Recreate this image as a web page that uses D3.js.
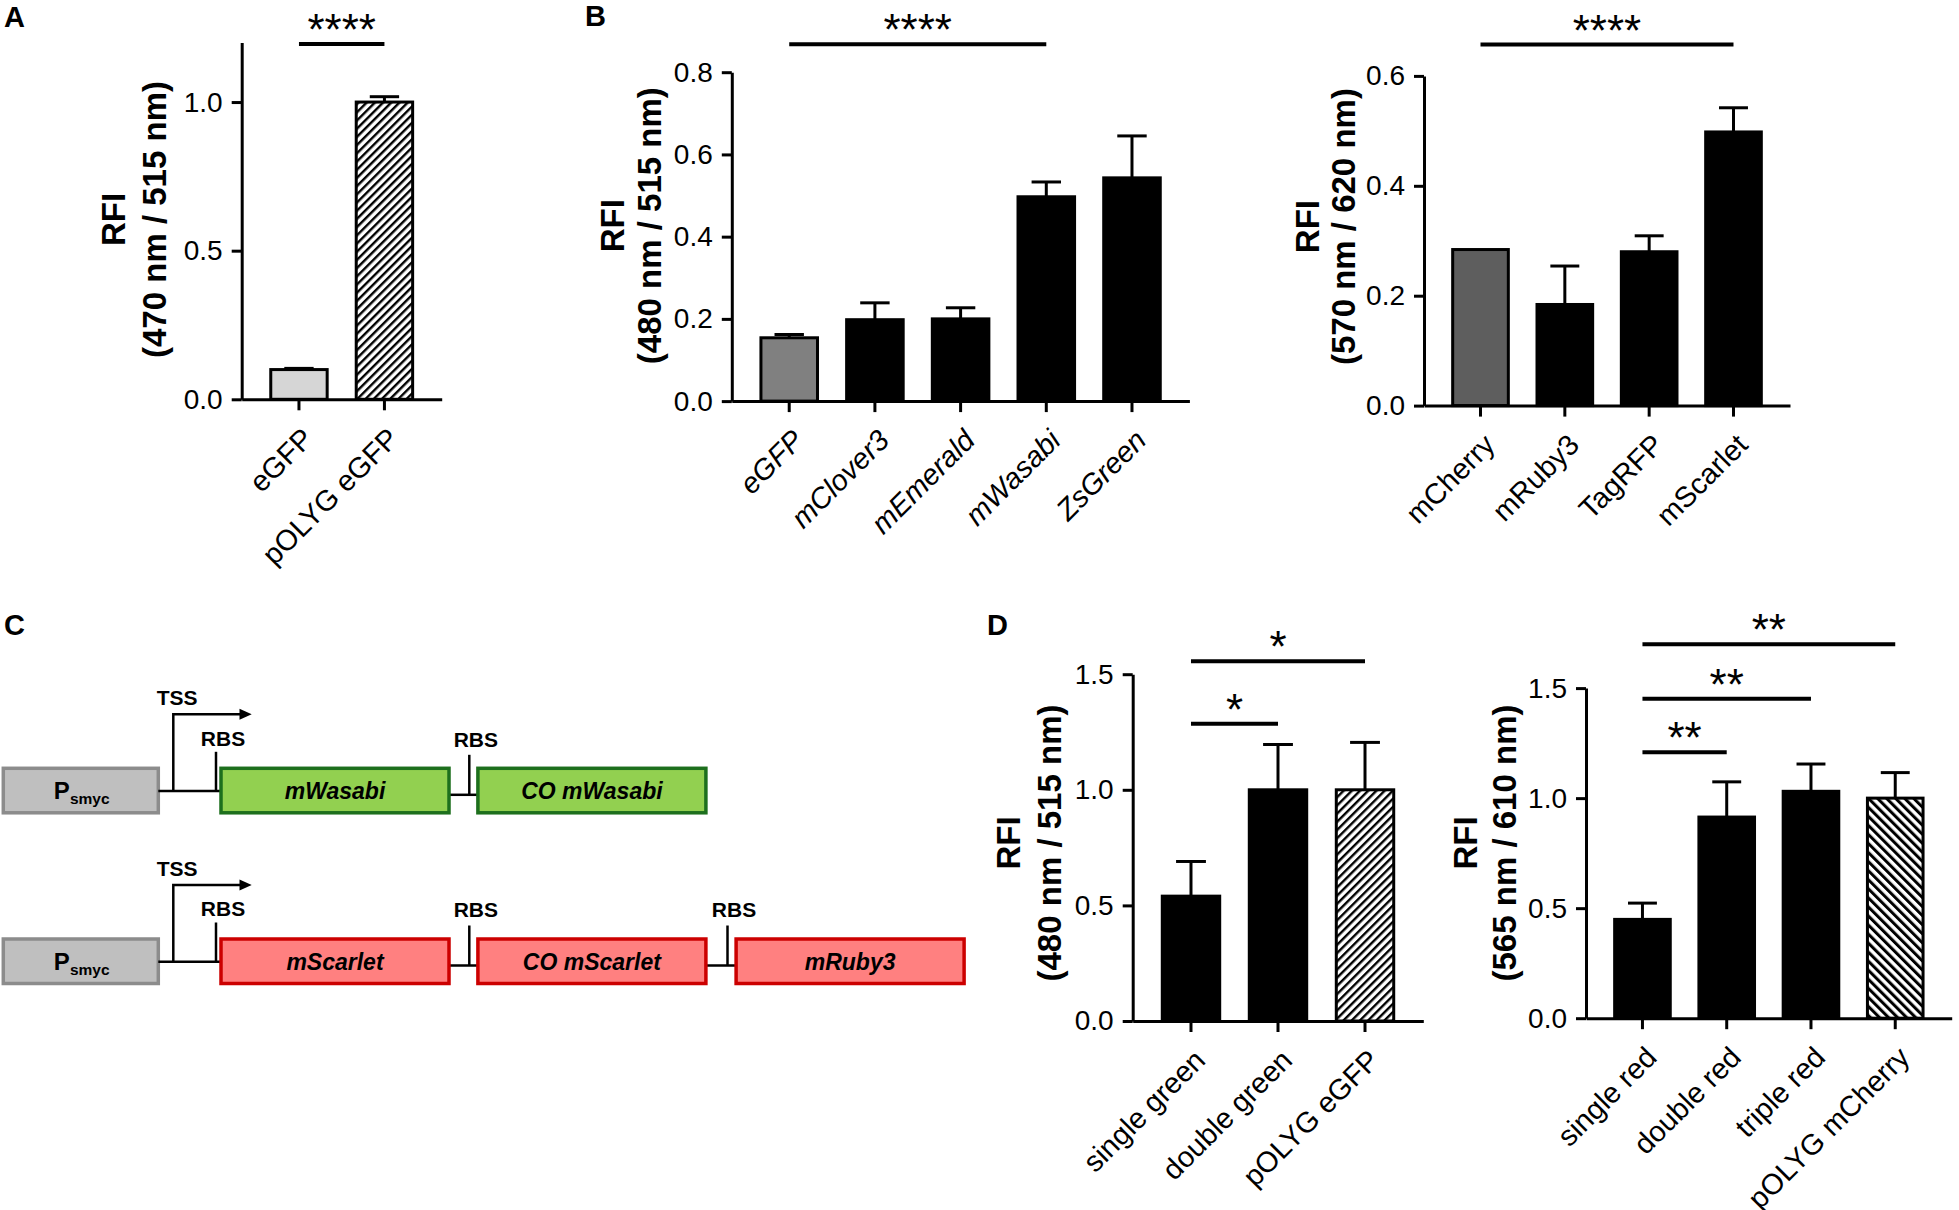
<!DOCTYPE html>
<html><head><meta charset="utf-8">
<script src="https://cdn.jsdelivr.net/npm/d3@7"></script>
<style>body{margin:0;background:#fff} svg{display:block}</style>
</head><body>
<svg id="fig" width="1959" height="1210"></svg>
<script>
// ---------------- data ----------------
const catsA = ["eGFP", "pOLYG eGFP"];
const valsA = [0.10, 1.00];
const sdA = [0.004, 0.018];
const ticksA = [0, 0.5, 1.0];

const catsBg = ["eGFP", "mClover3", "mEmerald", "mWasabi", "ZsGreen"];
const valsBg = [0.154, 0.198, 0.200, 0.497, 0.543];
const sdBg = [0.008, 0.041, 0.027, 0.036, 0.102];
const ticksBg = [0, 0.2, 0.4, 0.6, 0.8];

const catsBr = ["mCherry", "mRuby3", "TagRFP", "mScarlet"];
const valsBr = [0.284, 0.184, 0.280, 0.498];
const sdBr = [0, 0.070, 0.029, 0.044];
const ticksBr = [0, 0.2, 0.4, 0.6];

const catsDg = ["single green", "double green", "pOLYG eGFP"];
const valsDg = [0.54, 1.00, 1.00];
const sdDg = [0.15, 0.196, 0.205];
const ticksD = [0, 0.5, 1.0, 1.5];

const catsDr = ["single red", "double red", "triple red", "pOLYG mCherry"];
const valsDr = [0.449, 0.914, 1.031, 1.00];
const sdDr = [0.074, 0.160, 0.124, 0.116];

// significance brackets: [from index, to index, label, level in data units]
const sigA = [[0, 1, "****", 1.195]];
const sigBg = [[0, 3, "****", 0.868]];
const sigBr = [[0, 3, "****", 0.657]];
const sigDg = [[0, 1, "*", 1.286], [0, 2, "*", 1.556]];
const sigDr = [[0, 1, "**", 1.209], [0, 2, "**", 1.452], [0, 3, "**", 1.699]];

// construct diagram (panel C)
const construct1 = ["mWasabi", "CO mWasabi"];
const construct2 = ["mScarlet", "CO mScarlet", "mRuby3"];

// ---------------- drawing ----------------
const FONT = "'Liberation Sans', Arial, Helvetica, sans-serif";
const svg = d3.select("#fig").attr("font-family", FONT);
const defs = svg.append("defs");
function hatch(id, angle, size, lw) {
  const p = defs.append("pattern").attr("id", id).attr("patternUnits", "userSpaceOnUse")
    .attr("width", size).attr("height", size).attr("patternTransform", `rotate(${angle})`);
  p.append("rect").attr("width", size).attr("height", size).attr("fill", "#fff");
  p.append("rect").attr("x", 0).attr("width", lw).attr("height", size).attr("fill", "#000");
}
hatch("hatchF", 45, 5.8, 2.4);
hatch("hatchB", -45, 6.4, 3.0);

function panel(cfg) {
  const g = svg.append("g");
  const x = d3.scaleBand().domain(cfg.cats).range([cfg.ax, cfg.xEnd]).paddingInner(0.34).paddingOuter(0.34);
  const y = d3.scaleLinear().domain([0, cfg.max]).range([cfg.y0, cfg.yTop]);
  const bw = x.bandwidth();
  const rows = cfg.cats.map((c, i) => ({ c, v: cfg.vals[i], sd: cfg.sds[i], fill: cfg.fills[i] }));

  // error bars (upper only)
  const eb = g.append("g").attr("stroke", "#000").attr("stroke-width", 3);
  rows.filter(d => d.sd > 0).forEach(d => {
    const cx = x(d.c) + bw / 2;
    eb.append("line").attr("x1", cx).attr("x2", cx).attr("y1", y(d.v)).attr("y2", y(d.v + d.sd));
    eb.append("line").attr("x1", cx - bw * 0.26).attr("x2", cx + bw * 0.26)
      .attr("y1", y(d.v + d.sd)).attr("y2", y(d.v + d.sd));
  });

  // bars
  g.selectAll("rect.bar").data(rows).join("rect").attr("class", "bar")
    .attr("x", d => x(d.c)).attr("y", d => y(d.v))
    .attr("width", bw).attr("height", d => y(0) - y(d.v))
    .attr("fill", d => d.fill).attr("stroke", "#000").attr("stroke-width", 3);

  // y axis
  const ya = g.append("g").attr("transform", `translate(${cfg.ax},0)`)
    .call(d3.axisLeft(y).tickValues(cfg.ticks).tickSize(10).tickSizeOuter(0).tickPadding(9)
      .tickFormat(d3.format(".1f")));
  ya.select(".domain").attr("stroke-width", 3);
  ya.selectAll(".tick line").attr("stroke-width", 3);
  ya.selectAll(".tick text").attr("font-size", 28).attr("font-family", FONT).attr("fill", "#000");

  // x axis
  const xa = g.append("g").attr("transform", `translate(0,${cfg.y0})`)
    .call(d3.axisBottom(x).tickSize(11).tickSizeOuter(0).tickFormat(""));
  xa.select(".domain").attr("stroke-width", 3);
  xa.selectAll(".tick line").attr("stroke-width", 3);

  // category labels
  g.selectAll("text.cat").data(cfg.cats).join("text").attr("class", "cat")
    .attr("transform", d => `translate(${x(d) + bw / 2 + 16},${cfg.y0 + 41}) rotate(-45)`)
    .attr("text-anchor", "end").attr("font-size", 29)
    .attr("font-style", cfg.italic ? "italic" : "normal").text(d => d);

  // y title
  g.append("text").attr("transform", `translate(${cfg.tx1},${cfg.ty}) rotate(-90)`)
    .attr("text-anchor", "middle").attr("font-weight", "bold").attr("font-size", 33).text("RFI");
  g.append("text").attr("transform", `translate(${cfg.tx2},${cfg.ty}) rotate(-90)`)
    .attr("text-anchor", "middle").attr("font-weight", "bold").attr("font-size", 33).text(cfg.title);

  // significance
  cfg.sig.forEach(([i, j, lab, lv]) => {
    const xa1 = x(cfg.cats[i]) + bw / 2, xb1 = x(cfg.cats[j]) + bw / 2, yy = y(lv);
    g.append("line").attr("x1", xa1).attr("x2", xb1).attr("y1", yy).attr("y2", yy)
      .attr("stroke", "#000").attr("stroke-width", 4);
    g.append("text").attr("x", (xa1 + xb1) / 2).attr("y", yy + 1).attr("text-anchor", "middle")
      .attr("font-size", 44).text(lab);
  });
}

panel({ cats: catsA, vals: valsA, sds: sdA, ticks: ticksA, max: 1.2,
  fills: ["#d6d6d6", "url(#hatchF)"], italic: false,
  ax: 241.7, xEnd: 441.7, y0: 399.3, yTop: 42.6,
  tx1: 125, tx2: 166, ty: 219.5, title: "(470 nm / 515 nm)", sig: sigA });

panel({ cats: catsBg, vals: valsBg, sds: sdBg, ticks: ticksBg, max: 0.8,
  fills: ["#808080", "#000", "#000", "#000", "#000"], italic: true,
  ax: 731.8, xEnd: 1189.4, y0: 401.1, yTop: 72.2,
  tx1: 624, tx2: 661, ty: 225.7, title: "(480 nm / 515 nm)", sig: sigBg });

panel({ cats: catsBr, vals: valsBr, sds: sdBr, ticks: ticksBr, max: 0.6,
  fills: ["#5e5e5e", "#000", "#000", "#000"], italic: false,
  ax: 1424, xEnd: 1790, y0: 405.6, yTop: 75.9,
  tx1: 1318.5, tx2: 1354.5, ty: 226.6, title: "(570 nm / 620 nm)", sig: sigBr });

panel({ cats: catsDg, vals: valsDg, sds: sdDg, ticks: ticksD, max: 1.5,
  fills: ["#000", "#000", "url(#hatchF)"], italic: false,
  ax: 1132.7, xEnd: 1423.3, y0: 1021, yTop: 674.2,
  tx1: 1020, tx2: 1061, ty: 843, title: "(480 nm / 515 nm)", sig: sigDg });

panel({ cats: catsDr, vals: valsDr, sds: sdDr, ticks: ticksD, max: 1.5,
  fills: ["#000", "#000", "#000", "url(#hatchB)"], italic: false,
  ax: 1586, xEnd: 1951.7, y0: 1018.2, yTop: 688.1,
  tx1: 1477, tx2: 1516, ty: 843, title: "(565 nm / 610 nm)", sig: sigDr });

// panel letters
[["A", 4, 27], ["B", 585, 26], ["C", 4, 635], ["D", 987, 635]].forEach(([t, px, py]) => {
  svg.append("text").attr("x", px).attr("y", py).attr("font-weight", "bold").attr("font-size", 29).text(t);
});

// ---------------- panel C: constructs ----------------
const geneX = d3.scaleOrdinal().domain([0, 1, 2]).range([221, 477.9, 736.1]);
const geneW = 228;
function construct(genes, top, fill, stroke) {
  const g = svg.append("g");
  const h = 44.5, cy = top + h / 2;
  // promoter box
  g.append("rect").attr("x", 3.3).attr("y", top).attr("width", 155).attr("height", h)
    .attr("fill", "#bfbfbf").attr("stroke", "#8c8c8c").attr("stroke-width", 3.5);
  const pt = g.append("text").attr("x", 81.7).attr("y", top + 31).attr("text-anchor", "middle")
    .attr("font-weight", "bold");
  pt.append("tspan").attr("font-size", 24).text("P");
  pt.append("tspan").attr("font-size", 15.5).attr("dy", 5).text("smyc");
  const ink = g.append("g").attr("stroke", "#000").attr("stroke-width", 2.5).attr("fill", "none");
  // promoter to first gene
  const ly0 = top + 22.7;
  ink.append("line").attr("x1", 158.3).attr("x2", geneX(0)).attr("y1", ly0).attr("y2", ly0);
  // TSS arrow
  const ay = top - 54;
  ink.append("path").attr("d", `M173.3,${ly0}V${ay}H241`);
  g.append("path").attr("d", `M251.7,${ay}L239.5,${ay - 5.5}L239.5,${ay + 5.5}Z`).attr("fill", "#000");
  g.append("text").attr("x", 156.7).attr("y", top - 63.3).attr("font-weight", "bold")
    .attr("font-size", 21).text("TSS");
  // first RBS
  const r0 = geneX(0) - 5;
  ink.append("line").attr("x1", r0).attr("x2", r0).attr("y1", top - 16.5).attr("y2", ly0);
  g.append("text").attr("x", r0 + 7).attr("y", top - 22.8).attr("text-anchor", "middle")
    .attr("font-weight", "bold").attr("font-size", 21).text("RBS");
  genes.forEach((name, i) => {
    if (i > 0) {
      const lx0 = geneX(i - 1) + geneW, lx1 = geneX(i), ly = top + 26.5, rx = lx1 - 8.6;
      ink.append("line").attr("x1", lx0).attr("x2", lx1).attr("y1", ly).attr("y2", ly);
      ink.append("line").attr("x1", rx).attr("x2", rx).attr("y1", top - 13.5).attr("y2", ly);
      g.append("text").attr("x", rx + 6.5).attr("y", top - 21.8).attr("text-anchor", "middle")
        .attr("font-weight", "bold").attr("font-size", 21).text("RBS");
    }
    g.append("rect").attr("x", geneX(i)).attr("y", top).attr("width", geneW).attr("height", h)
      .attr("fill", fill).attr("stroke", stroke).attr("stroke-width", 3.5);
    g.append("text").attr("x", geneX(i) + geneW / 2).attr("y", cy + 8.5).attr("text-anchor", "middle")
      .attr("font-weight", "bold").attr("font-style", "italic").attr("font-size", 23).text(name);
  });
}
construct(construct1, 768.3, "#92d050", "#1d6f1d");
construct(construct2, 939, "#ff8080", "#cc0000");
</script>
</body></html>
